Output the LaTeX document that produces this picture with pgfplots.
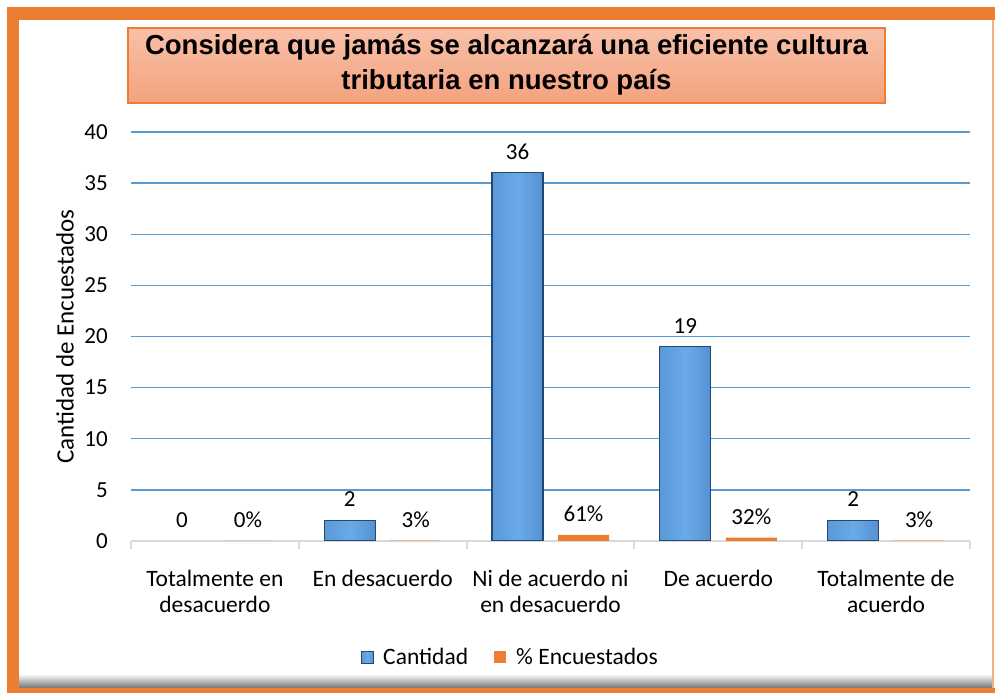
\documentclass[border=0pt]{standalone}
\usepackage{fontspec}
\setmainfont{Carlito}
\newfontfamily\titlefont{Liberation Sans}
\usepackage{pgfplots}
\pgfplotsset{compat=1.18}
\definecolor{frameorange}{HTML}{ED7D31}
\definecolor{titletop}{HTML}{F8C0A8}
\definecolor{titlebot}{HTML}{F4A27F}
\definecolor{gridblue}{HTML}{5B9BD5}
\definecolor{axisgray}{HTML}{D9D9D9}
\definecolor{bardark}{HTML}{24486F}
\definecolor{bA}{HTML}{2E5A8C}
\definecolor{bB}{HTML}{4A80C4}
\definecolor{bC}{HTML}{5592D2}
\definecolor{bD}{HTML}{6AAAE8}
\definecolor{bE}{HTML}{4E88C8}
\definecolor{bF}{HTML}{3D6DA8}
\definecolor{bG}{HTML}{1F3D60}
\pgfdeclarehorizontalshading{bevel}{100bp}{color(0bp)=(bA); color(8bp)=(bB); color(16bp)=(bC); color(50bp)=(bD); color(84bp)=(bE); color(92bp)=(bF); color(100bp)=(bG)}
\begin{document}
\begin{tikzpicture}[x=1pt,y=1pt]
\useasboundingbox (0,0) rectangle (995,693);
% frame
\shade[top color=white, bottom color=black!55] (19,5) rectangle (993,19);
\fill[frameorange] (7,673) rectangle (995,686);
\fill[frameorange] (7,0) rectangle (19,686);
\fill[frameorange] (7,0) rectangle (995,5);
\draw[frameorange!60, line width=1.2pt] (993,5) -- (993,673);
% title box
\shade[top color=titletop, bottom color=titlebot] (128,590) rectangle (885,665);
\draw[frameorange, line width=1.5pt] (128,590) rectangle (885,665);
\node[align=center, font=\titlefont\bfseries\fontsize{27.5}{35}\selectfont] at (506.5,628) {Considera que jamás se alcanzará una eficiente cultura\\tributaria en nuestro país};
\begin{axis}[
  at={(131pt,152pt)}, anchor=south west,
  scale only axis, width=839pt, height=409pt,
  xmin=-0.5, xmax=4.5, ymin=0, ymax=40,
  enlargelimits=false,
  axis y line*=left,
  axis x line*=bottom,
  y axis line style={draw=none},
  x axis line style={-, draw=axisgray, line width=2.5pt},
  ytick={5,10,...,40},
  extra y ticks={0},
  extra y tick style={grid=none},
  ymajorgrids,
  grid style={draw=gridblue, line width=1.4pt},
  ytick style={draw=none},
  yticklabel style={font=\fontsize{23}{26}\selectfont, inner sep=0pt, anchor=east, xshift=-23pt},
  xtick={0,1,2,3,4},
  xticklabels={{Totalmente en\\desacuerdo},{En desacuerdo},{Ni de acuerdo ni\\en desacuerdo},{De acuerdo},{Totalmente de\\acuerdo}},
  xtick style={draw=none},
  xticklabel style={font=\fontsize{23.5}{26}\selectfont, align=center, inner sep=0pt, anchor=north, yshift=-25pt},
  extra x ticks={-0.5,0.5,1.5,2.5,3.5,4.5},
  extra x tick labels={},
  extra x tick style={xtick style={draw=axisgray, line width=2pt}, major tick length=8pt, tick align=outside, grid=none},
  /pgf/number format/assume math mode=true,
  ylabel={Cantidad de Encuestados},
  ylabel style={at={(axis description cs:-0.0787,0.5)}, anchor=center, font=\fontsize{25}{27}\selectfont},
  ybar, bar width=51pt,
  legend style={at={(axis description cs:0.452,-0.284)}, anchor=center, draw=none, fill=none,
    legend columns=2, font=\fontsize{23.5}{26}\selectfont,
    /tikz/every even column/.append style={column sep=24pt}},
  legend image code/.code={\path[#1] (0pt,-6pt) rectangle (12pt,6pt); \path[draw=none, fill=none] (0pt,0pt) -- (20pt,0pt);},
  every node near coord/.append style={font=\fontsize{23}{26}\selectfont, inner sep=0pt, anchor=south, yshift=13pt},
  blue bar/.style={shading=bevel, draw=bardark, line width=1.2pt, bar shift=-33pt, nodes near coords},
]
\addplot[blue bar, draw=none, forget plot] coordinates {(0,0)};
\addplot[blue bar] coordinates {(1,2)};
\addlegendentry{Cantidad}
\addplot[blue bar, forget plot] coordinates {(2,36)};
\addplot[blue bar, forget plot] coordinates {(3,19)};
\addplot[blue bar, forget plot] coordinates {(4,2)};
\addplot[fill=frameorange, draw=none, bar shift=33pt, nodes near coords, point meta=explicit symbolic]
  coordinates {(0,0) [0\%] (1,0.03) [3\%] (2,0.61) [61\%] (3,0.32) [32\%] (4,0.03) [3\%]};
\addlegendentry{\% Encuestados}
\end{axis}
\end{tikzpicture}
\end{document}
